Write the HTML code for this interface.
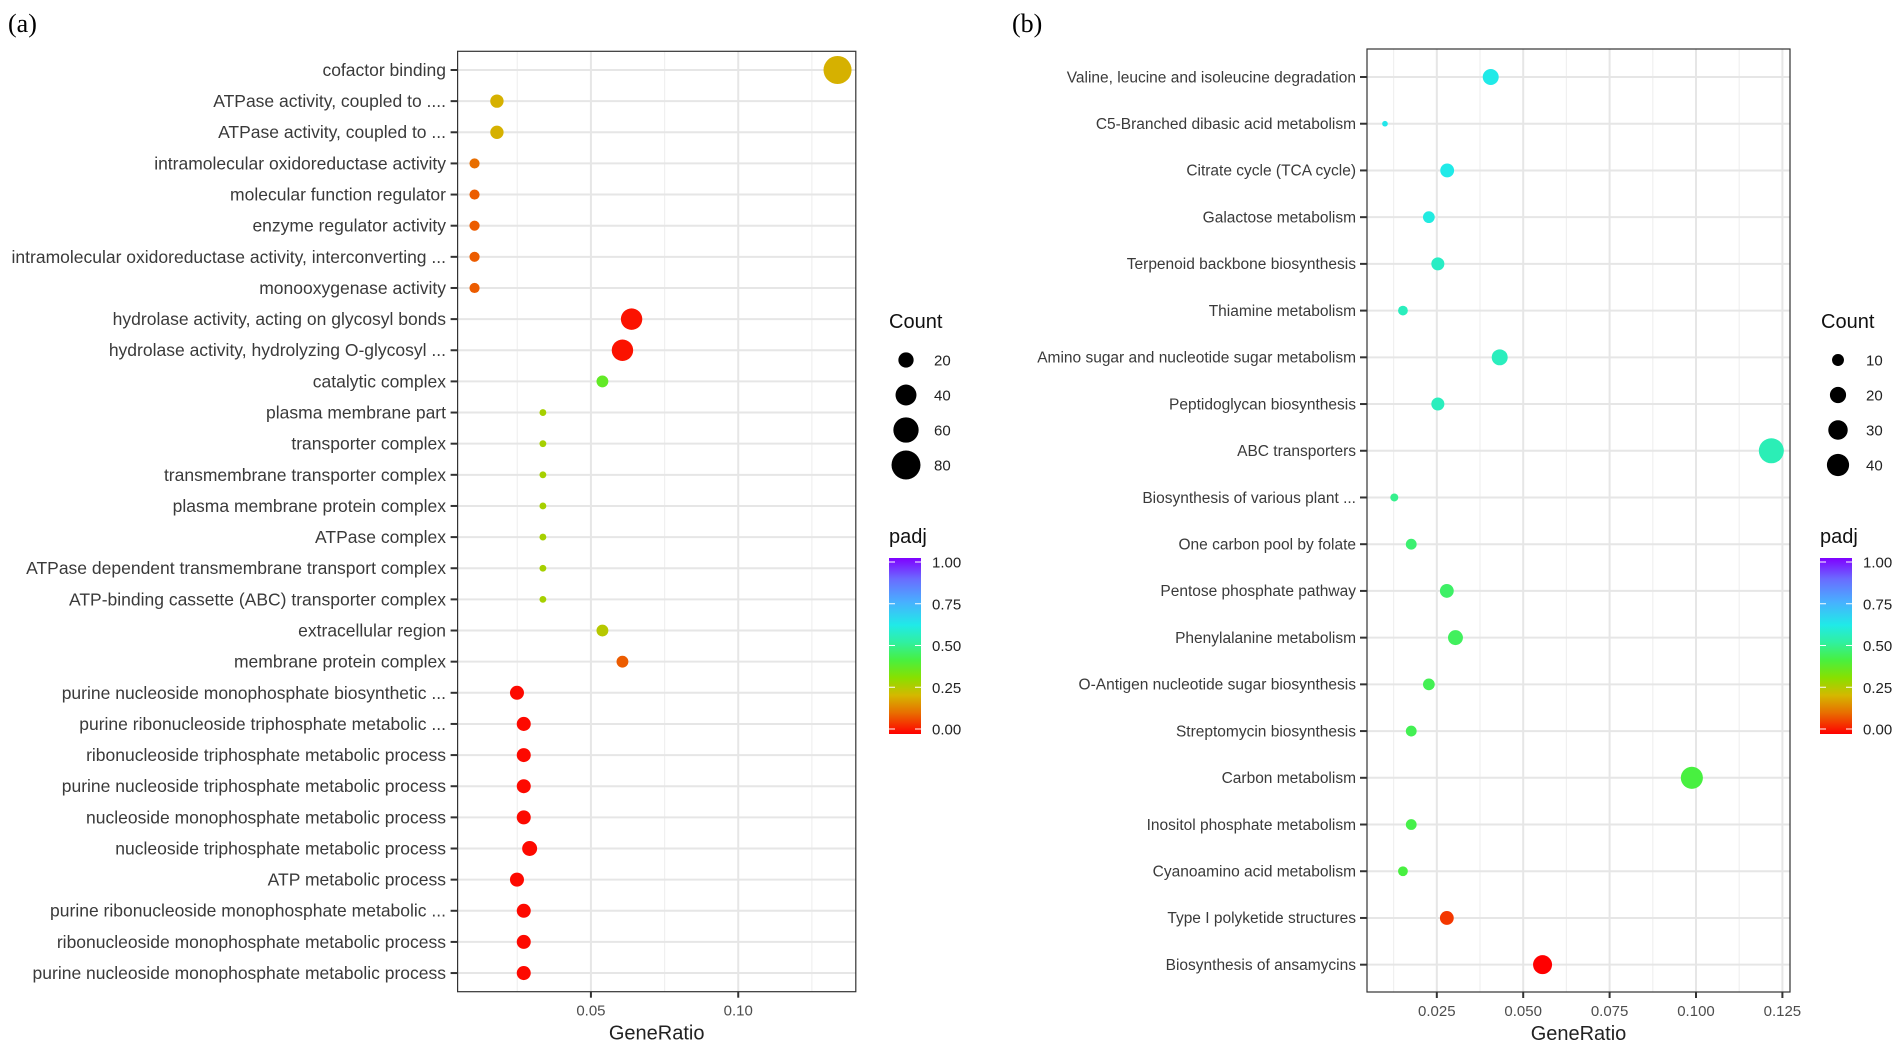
<!DOCTYPE html>
<html><head><meta charset="utf-8"><style>
html,body{margin:0;padding:0;background:#fff;}
svg{display:block;}
text{font-family:"Liberation Sans",sans-serif;}
</style></head><body>
<svg id="chart" width="1901" height="1053" viewBox="0 0 1901 1053" xmlns="http://www.w3.org/2000/svg">
<defs>
<linearGradient id="padjGrad" x1="0" y1="1" x2="0" y2="0">
<stop offset="0" stop-color="#ff0000"/><stop offset="0.12" stop-color="#e86e00"/>
<stop offset="0.22" stop-color="#d4b800"/><stop offset="0.32" stop-color="#88e000"/>
<stop offset="0.42" stop-color="#48f040"/><stop offset="0.52" stop-color="#30f0a0"/>
<stop offset="0.62" stop-color="#20eae8"/><stop offset="0.75" stop-color="#48b0ff"/>
<stop offset="0.88" stop-color="#6a6cff"/><stop offset="1" stop-color="#8000ff"/>
</linearGradient>
</defs>
<text x="8" y="32" font-size="26" style="font-family:'Liberation Serif',serif" fill="#000">(a)</text>
<text x="1012" y="32" font-size="26" style="font-family:'Liberation Serif',serif" fill="#000">(b)</text>
<g id="panelA"></g>
<g id="panelB"></g>
</svg>
<script>
// ---- Panel A data ----
const catsA = ["cofactor binding","ATPase activity, coupled to ....","ATPase activity, coupled to ...","intramolecular oxidoreductase activity","molecular function regulator","enzyme regulator activity","intramolecular oxidoreductase activity, interconverting ...","monooxygenase activity","hydrolase activity, acting on glycosyl bonds","hydrolase activity, hydrolyzing O-glycosyl ...","catalytic complex","plasma membrane part","transporter complex","transmembrane transporter complex","plasma membrane protein complex","ATPase complex","ATPase dependent transmembrane transport complex","ATP-binding cassette (ABC) transporter complex","extracellular region","membrane protein complex","purine nucleoside monophosphate biosynthetic ...","purine ribonucleoside triphosphate metabolic ...","ribonucleoside triphosphate metabolic process","purine nucleoside triphosphate metabolic process","nucleoside monophosphate metabolic process","nucleoside triphosphate metabolic process","ATP metabolic process","purine ribonucleoside monophosphate metabolic ...","ribonucleoside monophosphate metabolic process","purine nucleoside monophosphate metabolic process"];
const ratioA = [0.1337,0.0181,0.0181,0.0105,0.0105,0.0105,0.0105,0.0105,0.0638,0.0607,0.0539,0.0337,0.0337,0.0337,0.0337,0.0337,0.0337,0.0337,0.0539,0.0607,0.0249,0.0272,0.0272,0.0272,0.0272,0.0292,0.0249,0.0272,0.0272,0.0272];
const countA = [84,19,19,11,11,11,11,11,49,49,15,5,5,5,5,5,5,5,15,15,21,21,21,21,21,24,21,21,21,21];
const padjA = [0.21,0.21,0.21,0.12,0.1,0.1,0.1,0.1,0.02,0.02,0.38,0.28,0.28,0.28,0.28,0.28,0.28,0.28,0.26,0.1,0.01,0.01,0.01,0.01,0.01,0.01,0.01,0.01,0.01,0.01];
const ticksA = [0.05,0.10];
const tickLabelsA = ["0.05","0.10"];
const minorA = [0.025,0.075,0.125];
const legendCountsA = [20,40,60,80];
// ---- Panel B data ----
const catsB = ["Valine, leucine and isoleucine degradation","C5-Branched dibasic acid metabolism","Citrate cycle (TCA cycle)","Galactose metabolism","Terpenoid backbone biosynthesis","Thiamine metabolism","Amino sugar and nucleotide sugar metabolism","Peptidoglycan biosynthesis","ABC transporters","Biosynthesis of various plant ...","One carbon pool by folate","Pentose phosphate pathway","Phenylalanine metabolism","O-Antigen nucleotide sugar biosynthesis","Streptomycin biosynthesis","Carbon metabolism","Inositol phosphate metabolism","Cyanoamino acid metabolism","Type I polyketide structures","Biosynthesis of ansamycins"];
const ratioB = [0.0406,0.0100,0.0280,0.0227,0.0253,0.0152,0.0432,0.0253,0.1218,0.0127,0.0176,0.0279,0.0304,0.0227,0.0176,0.0988,0.0176,0.0152,0.0279,0.0556];
const countB = [24,3,18,13,16,9,24,16,59,6,11,18,21,13,11,46,11,9,18,34];
const padjB = [0.62,0.63,0.62,0.61,0.57,0.56,0.56,0.56,0.55,0.5,0.47,0.46,0.45,0.44,0.44,0.42,0.43,0.42,0.06,0.0];
const ticksB = [0.025,0.05,0.075,0.1,0.125];
const tickLabelsB = ["0.025","0.050","0.075","0.100","0.125"];
const minorB = [0.0125,0.0375,0.0625,0.0875,0.1125];
const legendCountsB = [10,20,30,40];
const padjTicks = [0,0.25,0.5,0.75,1];
const padjTickLabels = ["0.00","0.25","0.50","0.75","1.00"];

const NS="http://www.w3.org/2000/svg";
function mk(tag, attrs, parent){const e=document.createElementNS(NS,tag);for(const k in attrs)e.setAttribute(k,attrs[k]);parent.appendChild(e);return e;}
const stops=[[0,[255,0,0]],[0.12,[232,110,0]],[0.22,[212,184,0]],[0.32,[136,224,0]],[0.42,[72,240,64]],[0.52,[48,240,160]],[0.62,[32,234,232]],[0.75,[72,176,255]],[0.88,[106,108,255]],[1,[128,0,255]]];
function colorOf(p){for(let i=1;i<stops.length;i++){if(p<=stops[i][0]){const a=stops[i-1],b=stops[i];const t=(p-a[0])/(b[0]-a[0]);const c=a[1].map((v,j)=>Math.round(v+(b[1][j]-v)*t));return `rgb(${c[0]},${c[1]},${c[2]})`;}}return "rgb(128,0,255)";}

function panel(g, cfg){
  const {L,R,T,B,x0,x1,y0,yStep,cats,ratio,count,padj,ticks,tickLabels,minor,k,legX,legCounts,cbX,labelX,fs}=cfg;
  const sx=v=>L+(v-x0)/(x1-x0)*(R-L);
  const sy=i=>y0+i*yStep;
  const sr=c=>k*Math.sqrt(c);
  minor.forEach(v=>{if(sx(v)>L&&sx(v)<R){const l=mk('line',{x1:sx(v),x2:sx(v),y1:T,y2:B,stroke:'#f0f0f0','stroke-width':1.2},g);
    
    }});
  ticks.forEach(v=>{const l=mk('line',{x1:sx(v),x2:sx(v),y1:T,y2:B,stroke:'#e6e6e6','stroke-width':2},g);
    
    });
  cats.forEach((c,i)=>{const l=mk('line',{x1:L,x2:R,y1:sy(i),y2:sy(i),stroke:'#e6e6e6','stroke-width':2},g);
    
    });
  const fr=mk('rect',{x:L,y:T,width:R-L,height:B-T,fill:'none',stroke:'#333','stroke-width':1.2},g);
  
  
  cats.forEach((c,i)=>{
    const t=mk('line',{x1:L-7,x2:L,y1:sy(i),y2:sy(i),stroke:'#333','stroke-width':2},g);
    
    
    const tx=mk('text',{x:labelX,y:sy(i)+fs*0.34,'font-size':fs,'text-anchor':'end',fill:'#3a3a3a'},g);
    tx.textContent=c;
    
    
  });
  ticks.forEach((v,i)=>{
    const t=mk('line',{x1:sx(v),x2:sx(v),y1:B,y2:B+6,stroke:'#333','stroke-width':2},g);
    
    
    const tx=mk('text',{x:sx(v),y:B+24,'font-size':15,'text-anchor':'middle',fill:'#4d4d4d'},g);
    tx.textContent=tickLabels[i];
    
    
  });
  const xt=mk('text',{x:(L+R)/2,y:B+48,'font-size':20,'text-anchor':'middle',fill:'#222'},g);
  xt.textContent='GeneRatio';
  
  
  cats.forEach((c,i)=>{
    const d=mk('circle',{cx:sx(ratio[i]),cy:sy(i),r:sr(count[i]),fill:colorOf(padj[i])},g);
    
    
  });
  const lt=mk('text',{x:legX,y:328,'font-size':20,fill:'#111'},g);
  lt.textContent='Count';
  
  
  legCounts.forEach((c,i)=>{
    const cy=360+i*35;
    const d=mk('circle',{cx:legX+17,cy:cy,r:sr(c)+0.8,fill:'#000'},g);
    
    
    const tx=mk('text',{x:legX+45,y:cy+5.5,'font-size':15,fill:'#222'},g);
    tx.textContent=String(c);
    
    
  });
  const pt=mk('text',{x:cbX,y:543,'font-size':20,fill:'#111'},g);
  pt.textContent='padj';
  
  
  const cbT=558,cbB=734,cY=v=>729-(729-562)*v;
  const cb=mk('rect',{x:cbX,y:cbT,width:32,height:cbB-cbT,fill:'url(#padjGrad)'},g);
  
  
  padjTicks.forEach((v,i)=>{
    mk('line',{x1:cbX,x2:cbX+6,y1:cY(v),y2:cY(v),stroke:'#fff','stroke-width':1},g);
    mk('line',{x1:cbX+26,x2:cbX+32,y1:cY(v),y2:cY(v),stroke:'#fff','stroke-width':1},g);
    const tx=mk('text',{x:cbX+43,y:cY(v)+5.5,'font-size':15,fill:'#222'},g);
    tx.textContent=padjTickLabels[i];
    
    
  });
}
panel(document.getElementById('panelA'),{L:457.6,R:855.8,T:51.3,B:991.7,x0:0.00475,x1:0.1399,y0:70,yStep:31.14,
  cats:catsA,ratio:ratioA,count:countA,padj:padjA,ticks:ticksA,tickLabels:tickLabelsA,minor:minorA,k:1.53,
  legX:889,legCounts:legendCountsA,cbX:889,labelX:446,fs:17.5});
panel(document.getElementById('panelB'),{L:1367,R:1790,T:49,B:992,x0:0.0048,x1:0.1272,y0:77,yStep:46.72,
  cats:catsB,ratio:ratioB,count:countB,padj:padjB,ticks:ticksB,tickLabels:tickLabelsB,minor:minorB,k:1.63,
  legX:1821,legCounts:legendCountsB,cbX:1820,labelX:1356,fs:15.5});
</script>
</body></html>
